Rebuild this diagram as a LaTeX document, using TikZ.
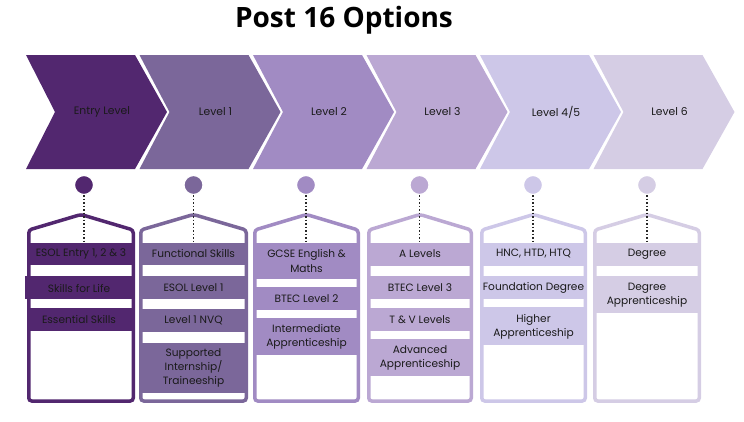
\documentclass[tikz,border=0pt]{standalone}
\usepackage{fontspec}
\setmainfont{Poppins}
\newfontfamily\titlefont{Open Sans}
\definecolor{cA}{HTML}{52276F}
\definecolor{cB}{HTML}{7B679A}
\definecolor{cC}{HTML}{A18BC3}
\definecolor{cD}{HTML}{BBA8D3}
\definecolor{cE}{HTML}{CDC7E8}
\definecolor{cF}{HTML}{D5CDE4}
\definecolor{txt}{HTML}{1A1A1A}
\tikzset{
  lbl/.style={font=\fontsize{10.8}{13}\selectfont, text=txt, align=center, inner sep=0pt},
  itm/.style={font=\fontsize{10.6}{14.2}\selectfont, text=txt, align=center, inner sep=0pt},
  dot/.style={circle, minimum size=19pt, inner sep=0pt, draw=white, line width=1.2pt},
  hang/.style={dotted, line width=1.5pt, draw=black!85},
}
% chevron: #1 x0, #2 colour, #3 name, #4 label
\newcommand{\chev}[4]{%
  \fill[#2] (#1,55) -- ++(109,0) -- ++(32,57) -- ++(-32,57) -- ++(-109,0) -- ++(30,-57) -- cycle;
  \node[lbl] (#3) at (#1+76,112) {#4};
}
\newcommand{\chevfirst}[4]{%
  \fill[#2] (#1,55) -- ++(109,0) -- ++(32,57) -- ++(-32,57) -- ++(-109,0) -- ++(29,-57) -- cycle;
  \node[lbl] (#3) at (#1+76,112) {#4};
}
% card: #1 left, #2 right, #3 colour
\newcommand{\card}[3]{%
  \draw[#3, line width=3.5pt, fill=white, rounded corners=3pt]
    (#1+1.75,401) -- (#1+1.75,230) -- ({(#1+#2)/2},214.5) -- (#2-1.75,230) -- (#2-1.75,401) -- cycle;
}
% band: #1 left, #2 right, #3 top, #4 bottom, #5 colour
\newcommand{\band}[5]{%
  \fill[#5] (#1+3,#3) rectangle (#2-3,#4);
}
\begin{document}
\begin{tikzpicture}[x=1pt,y=-1pt]
\useasboundingbox (0,0) rectangle (744,421);
\node[font=\titlefont\bfseries\fontsize{28}{30}\selectfont, inner sep=0pt] (title) at (344,20) {Post 16 Options};

\chevfirst{26}{cA}{h1}{Entry Level}
\chev{139.5}{cB}{h2}{Level 1}
\chev{253}{cC}{h3}{Level 2}
\chev{366.5}{cD}{h4}{Level 3}
\chev{480}{cE}{h5}{Level 4/5}
\chev{593.5}{cF}{h6}{Level 6}

% cards
\card{27}{135}{cA}
\card{139}{248}{cB}
\card{253}{360}{cC}
\card{367}{473}{cD}
\card{480}{587}{cE}
\card{593}{701}{cF}

% card 1
\band{27}{135}{243}{265}{cA}
\fill[cA] (25,276) rectangle (132,299);
\band{27}{135}{308}{331}{cA}
\node[itm] (a1) at (81,254) {ESOL Entry 1, 2 \& 3};
\node[itm] (a2) at (79,288) {Skills for Life};
\node[itm] (a3) at (79,319.5) {Essential Skills};

% card 2
\band{139}{248}{243}{265}{cB}
\band{139}{248}{276}{299}{cB}
\band{139}{248}{309}{332}{cB}
\band{139}{248}{343}{393}{cB}
\node[itm] (b1) at (193.5,254) {Functional Skills};
\node[itm] (b2) at (193.5,288) {ESOL Level 1};
\node[itm] (b3) at (193.5,320.5) {Level 1 NVQ};
\node[itm] (b4) at (193.5,368) {Supported\\Internship/\\Traineeship};

% card 3
\band{253}{360}{243}{279}{cC}
\band{253}{360}{287}{310}{cC}
\band{253}{360}{318}{355}{cC}
\node[itm] (c1) at (306.5,261) {GCSE English \&\\Maths};
\node[itm] (c2) at (306.5,298.5) {BTEC Level 2};
\node[itm] (c3) at (306.5,336.5) {Intermediate\\Apprenticeship};

% card 4
\band{367}{473}{243}{266}{cD}
\band{367}{473}{276}{299}{cD}
\band{367}{473}{308}{331}{cD}
\band{367}{473}{339}{376}{cD}
\node[itm] (d1) at (420,254) {A Levels};
\node[itm] (d2) at (420,288) {BTEC Level 3};
\node[itm] (d3) at (420,319.5) {T \& V Levels};
\node[itm] (d4) at (420,358) {Advanced\\Apprenticeship};

% card 5
\band{480}{587}{243}{266}{cE}
\band{480}{587}{276}{299}{cE}
\band{480}{587}{307}{345}{cE}
\node[itm] (e1) at (533.5,254) {HNC, HTD, HTQ};
\node[itm] (e2) at (533.5,288) {Foundation Degree};
\node[itm] (e3) at (533.5,326.5) {Higher\\Apprenticeship};

% card 6
\band{593}{701}{243}{266}{cF}
\band{593}{701}{276}{313}{cF}
\node[itm] (f1) at (647,254) {Degree};
\node[itm] (f2) at (647,295) {Degree\\Apprenticeship};

% circles and hangers
\foreach \n/\x/\c in {1/84/cA,2/193.5/cB,3/306/cC,4/419.5/cD,5/533/cE,6/647/cF}{
  \node[dot, fill=\c] (p\n) at (\x,185) {};
  \coordinate (q\n) at (\x,243);
  \draw[hang] (p\n.south) -- (q\n);
}
\end{tikzpicture}
\end{document}
